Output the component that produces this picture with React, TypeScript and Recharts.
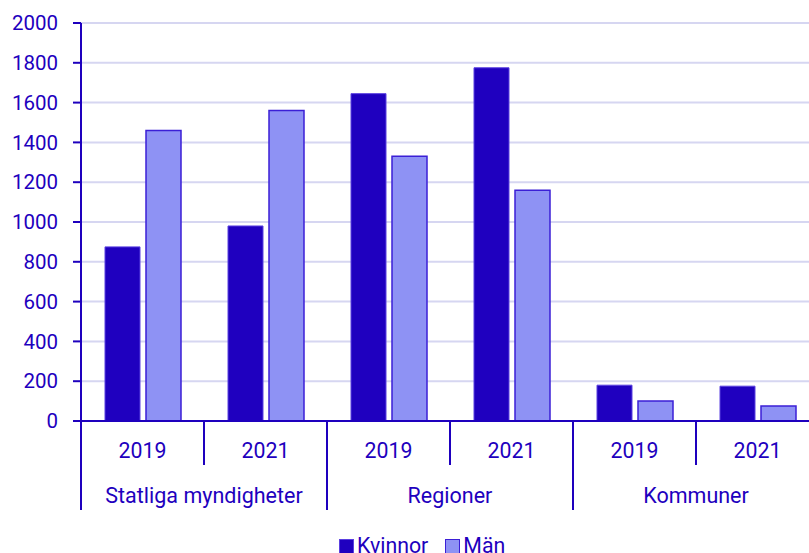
import React from 'react';
import { BarChart, Bar, XAxis, YAxis, CartesianGrid, Legend } from 'recharts';

const groups = ['Statliga myndigheter', 'Regioner', 'Kommuner'];
const years = ['2019', '2021'];
const kvinnor = [875, 980, 1645, 1775, 180, 175];
const man = [1460, 1560, 1330, 1160, 100, 75];
const yTicks = [0, 200, 400, 600, 800, 1000, 1200, 1400, 1600, 1800, 2000];

const data = groups.flatMap((g, gi) =>
  years.map((y, yi) => ({
    key: `${g}-${y}`,
    group: g,
    year: y,
    Kvinnor: kvinnor[gi * years.length + yi],
    Män: man[gi * years.length + yi],
  }))
);

const TEXT = '#1e00be';
const FONT = 'Roboto, sans-serif';
const CHART_W = 830;
const CHART_H = 560;
const MARGIN = { top: 23, right: 11, left: 0, bottom: 39 };
const Y_W = 81;
const BAND = (CHART_W - MARGIN.left - MARGIN.right - Y_W) / data.length;

const XTick = (props: any) => {
  const { x, y, index } = props;
  const d = data[index];
  if (!d) return null;
  const endOfGroup = index % years.length === years.length - 1;
  const startOfGroup = index % years.length === 0;
  return (
    <g>
      <text x={x} y={y + 37} textAnchor="middle" fill={TEXT} fontSize={21.3} fontFamily={FONT}>
        {d.year}
      </text>
      <line
        x1={x + BAND / 2}
        x2={x + BAND / 2}
        y1={y}
        y2={y + (endOfGroup ? 89 : 44)}
        stroke={TEXT}
        strokeWidth={2}
      />
      {index === 0 && (
        <line x1={x - BAND / 2} x2={x - BAND / 2} y1={y} y2={y + 89} stroke={TEXT} strokeWidth={2} />
      )}
      {startOfGroup && (
        <text x={x + BAND / 2} y={y + 82} textAnchor="middle" fill={TEXT} fontSize={21.5} fontFamily={FONT}>
          {d.group}
        </text>
      )}
    </g>
  );
};

const LegendContent = (props: any) => {
  const { payload } = props;
  return (
    <div style={{ display: 'flex', alignItems: 'center', fontFamily: FONT, fontSize: 21.3, color: TEXT, lineHeight: '20px' }}>
      {(payload || []).map((p: any, i: number) => (
        <div key={i} style={{ display: 'flex', alignItems: 'center', marginRight: 17 }}>
          <span
            style={{
              display: 'inline-block',
              width: 13,
              height: 13,
              background: p.payload?.fill ?? p.color,
              border: `1px solid ${p.payload?.stroke ?? TEXT}`,
              marginRight: 3,
            }}
          />
          <span>{p.value}</span>
        </div>
      ))}
    </div>
  );
};

export default function App() {
  return (
    <div style={{ position: 'fixed', left: 0, top: 0, width: 809, height: 553, overflow: 'hidden', background: '#fff' }}>
      <BarChart
        width={CHART_W}
        height={CHART_H}
        data={data}
        margin={MARGIN}
        barCategoryGap={24}
        barGap={6}
      >
        <CartesianGrid vertical={false} stroke="#d6d6f1" strokeWidth={2} />
        <XAxis
          dataKey="key"
          height={100}
          interval={0}
          tickSize={0}
          tickMargin={0}
          tickLine={false}
          axisLine={{ stroke: TEXT, strokeWidth: 2 }}
          tick={(p: any) => <XTick {...p} />}
        />
        <YAxis
          width={Y_W}
          domain={[0, 2000]}
          ticks={yTicks}
          interval={0}
          tickSize={8}
          tickMargin={15}
          axisLine={{ stroke: TEXT, strokeWidth: 2 }}
          tickLine={{ stroke: TEXT, strokeWidth: 2 }}
          tick={{ fill: TEXT, fontSize: 20.5, fontFamily: FONT }}
        />
        <Legend
          layout="horizontal"
          verticalAlign="middle"
          align="center"
          wrapperStyle={{ top: 536, left: 339, width: 300 }}
          content={(p: any) => <LegendContent {...p} />}
        />
        <Bar dataKey="Kvinnor" fill="#1f00bf" stroke="#5b40e0" strokeWidth={1} isAnimationActive={false} />
        <Bar dataKey="Män" fill="#8e92f4" stroke="#3b1fd6" strokeWidth={1.5} isAnimationActive={false} />
      </BarChart>
    </div>
  );
}
